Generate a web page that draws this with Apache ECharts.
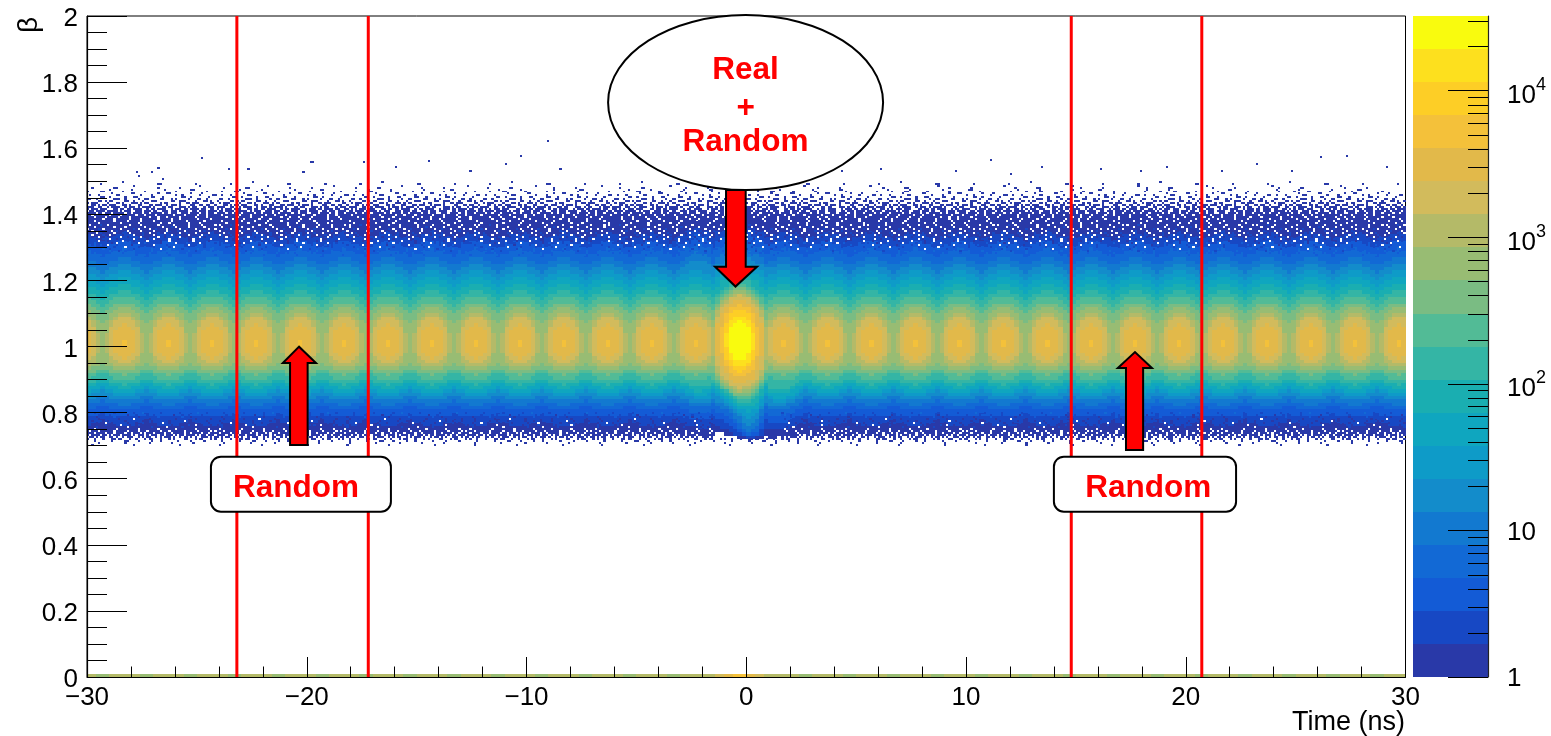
<!DOCTYPE html>
<html><head><meta charset="utf-8">
<style>html,body{margin:0;padding:0;background:#fff}#c{width:1551px;height:736px}</style>
<script src="https://cdn.jsdelivr.net/npm/echarts@6/dist/echarts.min.js"></script>
</head><body><div id="c"></div>
<script>
// ---- palette: 20 log-spaced contour bands, bottom to top
const bandEdges = [1,1.68,2.82,4.74,7.96,13.4,22.5,37.8,63.5,106.7,179,301,506,851,1430,2400,4030,6780,11390,19100,32200];
const bandColors = ['#2939A8','#1748C4','#135BD6','#1269D5','#1279D0','#138CCB','#0E9BC8','#0FA6BF','#1AAEB1','#34B5A5',
  '#52BB96','#7ABC83','#98BC73','#B4BA68','#D2BB5C','#E2B94A','#F4C13A','#FDCE26','#FDE01E','#F9FB0E'];
const barMajorTicks = [1,10,100,1000,10000];
const barMinorTicks = [2,3,4,5,6,7,8,9,20,30,40,50,60,70,80,90,200,300,400,500,600,700,800,900,2000,3000,4000,5000,6000,7000,8000,9000,20000,30000];
const barLabels = {1:'{p|1}',10:'{p|10}',100:'{q|10}{s|2}',1000:'{q|10}{s|3}',10000:'{q|10}{s|4}'};

// ---- beta at which each band starts / ends, per column offset from a bunch peak
const phase0Low  = [.742,.762,.785,.808,.825,.838,.848,.858,.87,.885,.90,.912,.925,.935,.948,.965,1.005];
const phase0High = [1.37,1.35,1.325,1.30,1.275,1.25,1.23,1.21,1.19,1.17,1.155,1.135,1.12,1.105,1.09,1.07,1.02];
const phase1Low  = [.742,.762,.785,.808,.825,.838,.85,.86,.872,.887,.902,.915,.927,.938,.95,.968];
const phase1High = [1.37,1.345,1.32,1.295,1.27,1.25,1.228,1.208,1.188,1.168,1.152,1.132,1.117,1.102,1.087,1.065];
const phase2Low  = [.742,.764,.787,.81,.827,.84,.853,.863,.876,.89,.905,.918,.93,.942,.956,.98];
const phase2High = [1.37,1.34,1.315,1.29,1.265,1.243,1.223,1.203,1.183,1.163,1.146,1.127,1.11,1.095,1.078,1.053];
const phase3Low  = [.742,.766,.79,.813,.83,.844,.857,.868,.881,.895,.91,.922,.936,.95,.97];
const phase3High = [1.37,1.335,1.31,1.285,1.258,1.235,1.215,1.197,1.177,1.157,1.14,1.12,1.10,1.085,1.063];
const phase4Low  = [.742,.77,.794,.818,.835,.848,.862,.874,.887,.90,.916,.928,.945,.98];
const phase4High = [1.37,1.33,1.305,1.278,1.252,1.23,1.208,1.188,1.17,1.15,1.13,1.108,1.08,1.045];
const phase5Low  = [.742,.775,.80,.822,.84,.853,.867,.88,.893,.905,.92,.93,.95];
const phase5High = [1.37,1.325,1.30,1.27,1.25,1.225,1.205,1.185,1.165,1.145,1.125,1.10,1.07];
const phaseLow = [phase0Low,phase1Low,phase2Low,phase3Low,phase4Low,phase5Low];
const phaseHigh = [phase0High,phase1High,phase2High,phase3High,phase4High,phase5High];
const phaseOfColumn = [2,3,4,5,4,3,2,1,0,1];      // repeating 2 ns structure, 0.2 ns per column
const stripOfPhase = [13,13,13,13,12,12];         // bin at beta = 0

// ---- the coincidence peak near -0.3 ns: upper edges by distance, lower edges by signed column offset
const centreHigh = [
 [1.40,1.37,1.345,1.32,1.295,1.275,1.255,1.235,1.215,1.20,1.19,1.18,1.172,1.165,1.156,1.145,1.13,1.11,1.095,1.08],
 [1.40,1.37,1.345,1.32,1.295,1.275,1.255,1.235,1.215,1.20,1.188,1.178,1.17,1.162,1.153,1.14,1.125,1.107,1.09,1.075],
 [1.40,1.365,1.34,1.315,1.29,1.27,1.25,1.23,1.21,1.195,1.183,1.172,1.163,1.155,1.146,1.135,1.118,1.097,1.08,1.062],
 [1.39,1.36,1.335,1.31,1.285,1.26,1.24,1.22,1.20,1.185,1.172,1.16,1.15,1.14,1.13,1.12,1.10,1.075,1.045],
 [1.38,1.355,1.33,1.305,1.28,1.255,1.235,1.215,1.195,1.175,1.16,1.147,1.137,1.127,1.117,1.10,1.065],
 [1.38,1.35,1.325,1.30,1.272,1.248,1.228,1.208,1.185,1.165,1.15,1.135,1.122,1.11,1.092,1.07],
 [1.375,1.335,1.31,1.28,1.255,1.235,1.213,1.19,1.17,1.15,1.13,1.11,1.085,1.06]];
const centreLow = [
 [.742,.765,.79,.81,.83,.845,.858,.87,.882,.894,.905,.915,.935,.97],
 [.74,.76,.782,.80,.82,.835,.847,.858,.868,.878,.888,.897,.907,.92,.945,.975],
 [.738,.755,.775,.795,.812,.826,.838,.848,.857,.866,.875,.883,.892,.90,.912,.94,.98],
 [.735,.75,.77,.79,.805,.82,.833,.842,.85,.858,.866,.874,.882,.89,.90,.915,.935,.965,.995],
 [.73,.745,.76,.78,.795,.81,.825,.835,.845,.85,.857,.863,.87,.876,.885,.90,.92,.938,.958,.98],
 [.728,.735,.75,.765,.782,.80,.815,.825,.835,.842,.85,.855,.862,.87,.878,.893,.91,.925,.94,.963],
 [.722,.73,.737,.752,.768,.785,.80,.812,.825,.835,.843,.85,.857,.865,.874,.89,.908,.923,.938,.959],
 [.72,.727,.733,.74,.755,.77,.79,.805,.82,.832,.842,.85,.858,.866,.876,.892,.91,.925,.94,.965],
 [.718,.725,.73,.735,.745,.762,.782,.80,.818,.832,.843,.853,.862,.87,.88,.897,.918,.935,.955,.98],
 [.718,.725,.73,.737,.75,.767,.785,.805,.822,.838,.85,.86,.87,.878,.888,.905,.93,.965,.99],
 [.72,.728,.735,.745,.76,.778,.797,.815,.835,.85,.862,.873,.882,.89,.90,.925,.975],
 [.725,.735,.75,.77,.79,.805,.825,.84,.855,.868,.88,.89,.90,.91,.93,.97],
 [.735,.755,.775,.80,.82,.835,.85,.865,.878,.89,.905,.915,.93,.96]];
const centreStrip = [13,14,14,15,15,16,16,16,15,15,14,14,13];
// how far the low edge of the blue bands drops / the top rises next to the coincidence peak
const tailLeft  = [0,.004,.006,.008,.01,.012];                   // offsets -12..-7
const tailRight = [.02,.018,.016,.014,.012,.008,.005,.003];      // offsets +7..+14
const bumpTop   = [.003,.005,.008,.01,.012,.012,.012,.012];      // offsets -14..-7

// ---- sparse edge bins (0.1 ns x 0.006), digit = band, 'w' = empty hole, '.' = nothing to add. Top row first.
const topFringeBottom = 1.274;
const topFringe = [
"................0..........................................",
"......0.........................00...............0.........",
".....................0.............................0.........",
"..0.........00..................0.........0.................",
"..........0.........0..............0...........00..........",
"0.....00........0.........0.............0.............0......",
"...........0........00..........0...00.........0....0.......",
".0...0.......00.........0....0..........0..0.......0.....00.",
"......00..0......0...00......00...0........00..0.......0....",
"00..0.......000..0.....0..00.....00...0.0.....0...00..0.....",
".....00.0.00.....00..0...0...000......00..000....0...00.0..0",
"0.000....0...00.0...000.0.00.....0.00.....0..00.000.....00..",
"..00.0.00.000...00.0...00...00.000..0.000.0....00..00.00..0.",
"000..00..0.0000..0.000.0.0000.0...00.00...000.0.00...0.000.0",
"0.000.000...00.00.00.0000..0.00.0000..0.000.00.0000.00..00.0.",
".00.0000.00000.0.000..000.000.00..000.000.0000..00.000.0000",
"0000.00.000.00000.00.0000.00.00000.00.000..000.0000.00.000.",
"00.0000000.0000.000000.000.0000.0000000.0000.00000.000.0000",
"000.0000.00000.0000.00000000.000.000.00000.000000.0000.00000",
"0000000.0000.000000.0000.0000000.00000.000.0000000.00000.00",
"000.00000000.00000.00000w00000.0000000.000000.0000000.0000",
"00000.000000000.0000000.000000000.000.00000000.0000w000000",
"0w00.01..w.0000.0..w.00.w..00.0.w0.00..w..0.00w.0..0w.00.0w",
".00w.0..00..w.00.w0.0..00.w.0..00.w.0.1.w.00..w0.00..w.0..",
"w.0..1.w.00.0..w..00.1.w.0.0w..1.00.w.0...w0.1.0.w..00.w.0",
"..w.00...0.w.1.00.w..0..w.00..w.0...w.00.1..w.0.0..w.1.00.",
".0..w.1.0...w.0..1.w..00.1..w.0.1..w.0..0.w..1.0.w.0...w.1",
"1.w..0.1..w.0...0.1..w.0.1..0.w..1.0..w.0.1...w.0.1.w..0..",
"..0..w..1.0..1.w..0...1.w..0.1..w..0.1..1.w.0...1..w.0.1..",
".1..0..1..w..0..1.1..w.0..1...w.0..1.w...0.1.1..w.0...1.w.",
"...1.w...0..1...w.1..0...1.w..1..0...w.1..1...0.w...1..0..",
"1..2...1...0.w..2...1..w..2..1...0..2...w.1..2...1.w..2...",
"..1...2..w...1..2...0..2...1..w..2..1...2...1.w...2..1...2",
".2...1..2...1....w.2...1..2...1..2...1.w..2...1..2...1..2.",
"...2...3..1...2..3...1...2...3...w..2..3...1..2...3...2...",
".3...2....3...1..2...3....2..3...2...3....2...3..1...3...2",
"...3...2...3....2....3..2...3...3...2....3...3...2...3....",
"2.....3.....3...3.....2...3.....3....2....3.....3...3....."];
const bottomFringeBottom = 0.70;
const bottomFringe = [
"...1....2...1...2....1...3...2...1...2....1...2...3...1..2.",
".2...1....1..2....0...1...2...1....2...0...1...2....1..2..",
"....0...1...2..1...1...0...1....2..1...1...2...0...1...1.",
".1...0....1...0..1...w..1...0...1...1...0...1....0..1...0",
"..0...1..0...1...0....1..0...0...1...0..1...w..0...1..0...",
"1...0...w..0...1..0...0..1...0....w..0...1..0...0...1..0.",
"..0..0..1...0..w...0...1...0..0...1...0...0...1..w..0...0",
".0..1..0...0...0..w..0...0...1...0..w...0..1...0...0..0..",
"0..w...0.0...w..0...0..w...0.0..w...0...w.0..0...w..0..w.",
".w.0.w...0..w.0...w..0.w...w.0...w.0.w...0..w...0.w..0..w",
"000.0000.000.0000.00.000w0.000.0000.00.00000.00.0000.00w0",
"0.0000.00.0.000.0000.0.000.0.000.00.000.0.00.0000.0.00.00",
".00.0.00..00.0..0.000..0.0.00..0.0.000.0..0.00.0.0..000.0",
"0..0...0...00.00...0..0...0.00...0...0.0....00...0.00...0.",
"...0.......0.....00....0.....0...0.......0.....0.....0....",
".....0...........0..........0.........0.........0........",
"..0..................0....................0..............."];
const tailFreeFrom = -1.5, tailFreeTo = 1.6, tailFreeAbove = 0.722;   // the speckle is absent inside the coincidence tail
const isolatedBinsX = [-9.06,-24.8,-19.85,-19.75,-17.43,-20.2,-23.6,-22.7,-27.77,-27.67,-27.1,-26.8,-26.6,-10.3,-14.5,-11,11.1,26.1,27.3,16.1,19.1,23.2,21.6,6.1,4.3,9.5,13.4,24.8,29.1,-8.5,-12.6,-16,12,17.9];
const isolatedBinsY = [1.62,1.567,1.555,1.555,1.555,1.525,1.534,1.534,1.525,1.513,1.525,1.537,1.504,1.573,1.558,1.549,1.561,1.57,1.573,1.534,1.54,1.549,1.528,1.534,1.528,1.528,1.54,1.528,1.54,1.534,1.528,1.54,1.519,1.528];

// ---- annotations, in axis units
const cutLinesX = [-23.18,-17.2,14.79,20.73];
const arrowDown = [-0.92,-0.025,-1.42,0.49,-0.49,1.4735,1.2415,1.1815];
const arrowLeft = [-20.76,-19.96,-21.09,-19.58,-20.35,0.702,0.95,0.9995];
const arrowRight = [17.28,18.06,16.91,18.46,17.69,0.687,0.935,0.983];
const ellipseBox = [-0.03,1.738,6.257,0.2648];
const randomBoxes = [[-24.36,-16.17,0.5002,0.6666],[14.0,22.29,0.5002,0.6666]];
const noteTexts = ['Real','+','Random','Random','Random'];
const noteX = [-0.03,-0.03,-0.03,-20.49,18.29];
const noteY = [1.835,1.722,1.619,0.571,0.571];

// ---- build the cell table from the arrays above
const heatCells = [], stripCells = [], fringeCells = [];
const colWidth = 0.2, rowHeight = 0.01, firstRow = 0.70, rowCount = 72, colCount = 300, peakCol = 148;
function levelAt(low, high, y){
  let lv = -1;
  const n = Math.min(low.length, high.length);
  for (let i = 0; i < n; i++) if (y >= low[i] && y < high[i]) lv = i;
  return lv;
}
for (let c = 0; c < colCount; c++){
  const off = c - peakCol, x0 = -30 + c*colWidth, x1 = x0 + colWidth;
  const inCentre = Math.abs(off) <= 6;
  const ph = phaseOfColumn[c % 10];
  let low = inCentre ? centreLow[off+6] : phaseLow[ph];
  let high = inCentre ? centreHigh[Math.abs(off)] : phaseHigh[ph];
  const lowShift = (off >= -12 && off <= -7) ? tailLeft[off+12] : (off >= 7 && off <= 14) ? tailRight[off-7] : 0;
  const topShift = (off >= -14 && off <= -7) ? bumpTop[off+14] : 0;
  if (lowShift) low = low.map((v,i)=> i <= 9 ? v - lowShift : v);
  if (topShift) high = high.map((v,i)=> i <= 5 ? v + topShift : v);
  stripCells.push([x0,x1,0,0.01,inCentre ? centreStrip[off+6] : stripOfPhase[ph]]);
  let runStart = 0, runLevel = -1;
  for (let r = 0; r <= rowCount; r++){
    const y = firstRow + (r+0.5)*rowHeight;
    const lv = r === rowCount ? -1 : levelAt(low, high, y);
    if (lv !== runLevel){
      if (runLevel >= 0) heatCells.push([x0,x1,firstRow+runStart*rowHeight,firstRow+r*rowHeight,runLevel]);
      runStart = r; runLevel = lv;
    }
  }
}
function addFringe(rows, bottom, skipTail){
  for (let i = 0; i < rows.length; i++){
    const y0 = bottom + (rows.length-1-i)*0.006;
    const row = rows[i];
    for (let c = 0; c < 600; c++){
      const ch = row[c % row.length];
      if (ch === '.' || ch === undefined) continue;
      const x0 = -30 + c*0.1;
      if (skipTail && y0 > tailFreeAbove && x0 > tailFreeFrom && x0 < tailFreeTo) continue;
      fringeCells.push([x0,x0+0.1,y0,y0+0.006, ch === 'w' ? -1 : +ch]);
    }
  }
}
addFringe(topFringe, topFringeBottom, false);
addFringe(bottomFringe, bottomFringeBottom, true);
isolatedBinsX.forEach((x,i)=>fringeCells.push([x,x+0.1,isolatedBinsY[i],isolatedBinsY[i]+0.006,0]));

function cellItem(params, api){
  const a = api.coord([api.value(0),api.value(3)]), b = api.coord([api.value(1),api.value(2)]);
  const lv = api.value(4);
  const x = Math.round(a[0]), y = Math.round(a[1]);
  return {type:'rect',silent:true,
    shape:{x:x,y:y,width:Math.round(b[0])-x,height:Math.round(b[1])-y},
    style:{fill: lv < 0 ? '#ffffff' : bandColors[lv]}};
}
function arrowItem(params, api){
  const v = i => api.value(i);
  const p = [[v(0),v(5)],[v(0),v(6)],[v(2),v(6)],[v(4),v(7)],[v(3),v(6)],[v(1),v(6)],[v(1),v(5)]].map(q=>api.coord(q));
  return {type:'polygon',shape:{points:p},style:{fill:'#ff0000',stroke:'#000',lineWidth:2,lineJoin:'miter'}};
}
const FONT = "'Liberation Sans',Arial,sans-serif";
const cellEnc = {x:[0,1],y:[2,3]};
const bandData = bandColors.map((c,i)=>[0,1,bandEdges[i],bandEdges[i+1],i]);
const tickData = barMajorTicks.map(v=>[v,40]).concat(barMinorTicks.map(v=>[v,20]));

const chart = echarts.init(document.getElementById('c'),null,{renderer:'canvas'});
chart.setOption({
  animation:false,
  backgroundColor:'#fff',
  grid:[
    {left:87,top:16,width:1318.5,height:661,show:true,borderColor:'#000',borderWidth:1,backgroundColor:'#fff'},
    {left:1413,top:16,width:75,height:661}
  ],
  xAxis:[
    {gridIndex:0,type:'value',min:-30,max:30,interval:10,z:5,
     splitLine:{show:false},
     axisLine:{show:true,onZero:false,lineStyle:{color:'#000',width:1.2}},
     axisTick:{show:true,inside:true,length:20,lineStyle:{color:'#000',width:1}},
     minorTick:{show:true,splitNumber:5,length:10.5,lineStyle:{color:'#000',width:1}},
     axisLabel:{color:'#000',fontFamily:FONT,fontSize:26,margin:8,formatter:v=>String(v).replace('-','\u2212')}},
    {gridIndex:1,type:'value',min:0,max:1,show:false}
  ],
  yAxis:[
    {gridIndex:0,type:'value',min:0,max:2,interval:0.2,z:5,
     splitLine:{show:false},
     axisLine:{show:true,onZero:false,lineStyle:{color:'#000',width:1.2}},
     axisTick:{show:true,inside:true,length:40,lineStyle:{color:'#000',width:1}},
     minorTick:{show:true,splitNumber:4,length:20,lineStyle:{color:'#000',width:1}},
     axisLabel:{color:'#000',fontFamily:FONT,fontSize:26,margin:9,
       formatter:v=>'{n|'+(+v.toFixed(1))+'}',
       rich:{n:{fontFamily:FONT,fontSize:26,padding:[6,0,0,0],color:'#000'}}}},
    {gridIndex:1,type:'log',logBase:10,min:1,max:32200,position:'right',z:5,
     splitLine:{show:false},
     axisLine:{show:true,onZero:false,lineStyle:{color:'#222',width:1.2}},
     axisTick:{show:false},minorTick:{show:false},
     axisLabel:{color:'#000',fontFamily:FONT,fontSize:26,margin:19,align:'left',
       formatter:v=>barLabels[Math.round(v)]||'',
       rich:{p:{fontFamily:FONT,fontSize:26,padding:[4,0,0,0],color:'#000'},
             q:{fontFamily:FONT,fontSize:26,padding:[11,0,0,0],color:'#000'},
             s:{fontFamily:FONT,fontSize:18,padding:[0,0,11,0],color:'#000'}}}}
  ],
  series:[
    {type:'custom',xAxisIndex:0,yAxisIndex:0,z:2,silent:true,progressive:0,renderItem:cellItem,encode:cellEnc,data:heatCells,clip:true},
    {type:'custom',xAxisIndex:0,yAxisIndex:0,z:2.1,silent:true,progressive:0,renderItem:cellItem,encode:cellEnc,data:fringeCells,clip:true},
    {type:'custom',xAxisIndex:0,yAxisIndex:0,z:2.2,silent:true,progressive:0,renderItem:cellItem,encode:cellEnc,data:stripCells,clip:true},
    {type:'custom',xAxisIndex:0,yAxisIndex:0,z:6,silent:true,encode:{x:0},data:cutLinesX.map(x=>[x]),clip:true,
     renderItem:(p,api)=>{
       const a=api.coord([api.value(0),0]),b=api.coord([api.value(0),2]);
       return {type:'line',shape:{x1:a[0],y1:a[1],x2:b[0],y2:b[1]},style:{stroke:'#ff0000',lineWidth:3}};
     }},
    {type:'custom',xAxisIndex:0,yAxisIndex:0,z:7,silent:true,renderItem:arrowItem,encode:{x:0},clip:false,
     data:[arrowDown,arrowLeft,arrowRight]},
    {type:'custom',xAxisIndex:0,yAxisIndex:0,z:8,silent:true,encode:{x:0},clip:false,data:[ellipseBox],
     renderItem:(p,api)=>{
       const c=api.coord([api.value(0),api.value(1)]);
       const e=api.coord([api.value(0)+api.value(2),api.value(1)-api.value(3)]);
       return {type:'ellipse',shape:{cx:c[0],cy:c[1],rx:e[0]-c[0],ry:e[1]-c[1]},style:{fill:'#fff',stroke:'#000',lineWidth:2}};
     }},
    {type:'custom',xAxisIndex:0,yAxisIndex:0,z:8,silent:true,encode:{x:0},clip:false,data:randomBoxes,
     renderItem:(p,api)=>{
       const a=api.coord([api.value(0),api.value(3)]),b=api.coord([api.value(1),api.value(2)]);
       return {type:'rect',shape:{x:a[0],y:a[1],width:b[0]-a[0],height:b[1]-a[1],r:10},style:{fill:'#fff',stroke:'#000',lineWidth:2}};
     }},
    {type:'custom',xAxisIndex:0,yAxisIndex:0,z:9,silent:true,encode:{x:0},clip:false,
     data:noteX.map((x,i)=>[x,noteY[i]]),
     renderItem:(p,api)=>{
       const a=api.coord([api.value(0),api.value(1)]);
       return {type:'text',style:{x:a[0],y:a[1],text:noteTexts[p.dataIndex],fill:'#ff0000',font:"bold 31.5px "+FONT,textAlign:'center',textVerticalAlign:'middle'}};
     }},
    {type:'custom',xAxisIndex:1,yAxisIndex:1,z:2,silent:true,renderItem:cellItem,encode:cellEnc,data:bandData,clip:false},
    {type:'custom',xAxisIndex:1,yAxisIndex:1,z:6,silent:true,encode:{y:0},clip:false,
     data:tickData.map(t=>[1,t[0],t[1]]),
     renderItem:(p,api)=>{
       const a=api.coord([1,api.value(1)]);
       const y=Math.round(a[1])+0.5;
       return {type:'line',shape:{x1:a[0]-api.value(2),y1:y,x2:a[0],y2:y},style:{stroke:'#000',lineWidth:1}};
     }}
  ],
  graphic:[
    {type:'text',x:1405,y:723,style:{text:'Time (ns)',fill:'#000',font:"27px "+FONT,textAlign:'right',textVerticalAlign:'middle'}},
    {type:'text',x:29,y:25,rotation:Math.PI/2,style:{text:'\u03B2',fill:'#000',font:"28px "+FONT,textAlign:'center',textVerticalAlign:'middle'}}
  ]
});
</script></body></html>
